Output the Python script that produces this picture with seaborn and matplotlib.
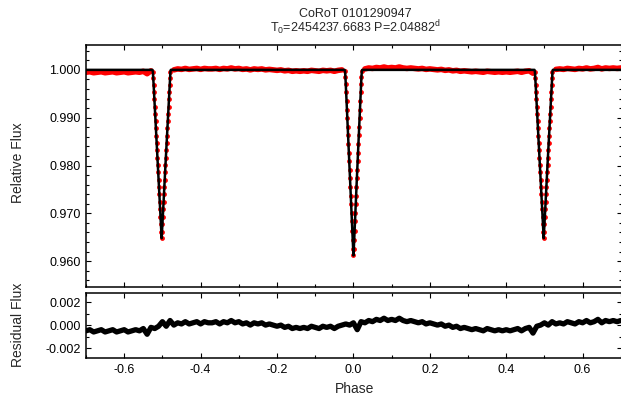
import numpy as np
import pandas as pd
import matplotlib
matplotlib.use("Agg")
import matplotlib.pyplot as plt
import seaborn as sns
from matplotlib.ticker import MultipleLocator, FormatStrFormatter

# ---------------- data ----------------
title_line1 = "CoRoT 0101290947"
title_line2 = r"T$_0$=2454237.6683 P=2.04882$^\mathrm{d}$"

# eclipse centres (phase)
secondary_centres = [-0.502, 0.498]
primary_centre = 0.0

# half eclipse profile: offset from centre (phase) and model flux
profile_offset = [0.000, 0.001, 0.002, 0.003, 0.004, 0.005, 0.006, 0.007, 0.008,
                  0.009, 0.010, 0.011, 0.012, 0.013, 0.014, 0.015, 0.016, 0.017,
                  0.018, 0.019, 0.020, 0.021, 0.022, 0.023, 0.024]
primary_flux = [0.9612, 0.9626, 0.9645, 0.9664, 0.9683, 0.9701, 0.9719, 0.9737, 0.9755,
                0.9773, 0.9791, 0.9809, 0.9827, 0.9845, 0.9863, 0.9881, 0.9899, 0.9917,
                0.9935, 0.9953, 0.9970, 0.9986, 0.9997, 1.0000, 1.0000]
secondary_flux = [0.9648, 0.9661, 0.9677, 0.9693, 0.9709, 0.9724, 0.9740, 0.9755, 0.9770,
                  0.9786, 0.9801, 0.9816, 0.9832, 0.9847, 0.9862, 0.9878, 0.9893, 0.9908,
                  0.9923, 0.9939, 0.9954, 0.9969, 0.9984, 0.9996, 1.0000]

# residuals (observed - model), phase -0.70 ... 0.70 in steps of 0.01
residual_phase = np.linspace(-0.70, 0.70, 141)
residual = [
    -0.0005, -0.0004, -0.0006, -0.0005, -0.0004, -0.0006, -0.0005, -0.0004, -0.0006, -0.0005,
    -0.0004, -0.0006, -0.0005, -0.0004, -0.0005, -0.0003, -0.0008, -0.0002, -0.0003, -0.0001,
    0.0003, -0.0001, 0.0004, 0.0000, 0.0002, 0.0001, 0.0003, 0.0001, 0.0002, 0.0003,
    0.0001, 0.0003, 0.0002, 0.0002, 0.0003, 0.0001, 0.0003, 0.0002, 0.0004, 0.0002,
    0.0003, 0.0001, 0.0002, 0.0000, 0.0002, 0.0001, 0.0002, 0.0000, 0.0001, 0.0000,
    -0.0001, 0.0000, -0.0002, -0.0001, -0.0003, -0.0002, -0.0003, -0.0002, -0.0003, -0.0001,
    -0.0002, -0.0003, -0.0001, -0.0002, -0.0001, -0.0003, -0.0001, 0.0000, 0.0001, 0.0000,
    0.0002, -0.0004, 0.0003, 0.0002, 0.0004, 0.0003, 0.0005, 0.0004, 0.0006, 0.0004,
    0.0005, 0.0004, 0.0006, 0.0004, 0.0003, 0.0004, 0.0003, 0.0002, 0.0003, 0.0001,
    0.0002, 0.0001, 0.0000, 0.0001, -0.0001, 0.0000, -0.0002, -0.0001, -0.0003, -0.0002,
    -0.0003, -0.0004, -0.0003, -0.0004, -0.0005, -0.0003, -0.0004, -0.0005, -0.0004, -0.0005,
    -0.0004, -0.0005, -0.0004, -0.0003, -0.0005, -0.0003, -0.0002, -0.0007, -0.0001, 0.0000,
    0.0002, 0.0000, 0.0003, 0.0001, 0.0002, 0.0001, 0.0003, 0.0002, 0.0001, 0.0003,
    0.0002, 0.0004, 0.0002, 0.0003, 0.0005, 0.0002, 0.0004, 0.0003, 0.0004, 0.0003, 0.0004,
]

x_ticks = [-0.6, -0.4, -0.2, 0.0, 0.2, 0.4, 0.6]
flux_ticks = [0.960, 0.970, 0.980, 0.990, 1.000]
resid_ticks = [-0.002, 0.000, 0.002]

# ---------------- build tables ----------------
off = np.array(profile_offset)
full_off = np.concatenate([-off[::-1], off[1:]])
prim_full = np.concatenate([np.array(primary_flux)[::-1], np.array(primary_flux)[1:]])
sec_full = np.concatenate([np.array(secondary_flux)[::-1], np.array(secondary_flux)[1:]])

ecl_list = [(secondary_centres[0], sec_full), (primary_centre, prim_full),
            (secondary_centres[1], sec_full)]

# model curve
mph = [-0.70]
mfl = [1.0]
for c, f in ecl_list:
    mph.extend(list(c + full_off))
    mfl.extend(list(f))
mph.append(0.70)
mfl.append(1.0)
model_df = pd.DataFrame({"phase": mph, "flux": mfl})

# in-eclipse observed points
dots_ph, dots_fl = [], []
for c, f in ecl_list:
    for o, v in zip(full_off, f):
        if v < 0.9998:
            dots_ph.append(c + o)
            dots_fl.append(v)
dots_df = pd.DataFrame({"phase": dots_ph, "flux": dots_fl})

# out-of-eclipse observed band = model (1.0) + residual
res = np.array(residual)
centres = np.array([secondary_centres[0], primary_centre, secondary_centres[1]])
half_w = off.max()
outside = np.all(np.abs(residual_phase[:, None] - centres[None, :]) > half_w, axis=1)
seg = np.sum(residual_phase[:, None] > centres[None, :], axis=1)
band_df = pd.DataFrame({"phase": residual_phase[outside],
                        "flux": 1.0 + res[outside],
                        "seg": seg[outside]})
resid_df = pd.DataFrame({"phase": residual_phase, "resid": res})

# ---------------- figure ----------------
sns.set_style("ticks")
plt.rcParams["font.family"] = ["Liberation Sans", "DejaVu Sans"]
plt.rcParams["mathtext.fontset"] = "custom"
plt.rcParams["mathtext.rm"] = "Liberation Sans"
plt.rcParams["mathtext.it"] = "Liberation Sans"
plt.rcParams["axes.unicode_minus"] = False

W, H = 621, 396
fig = plt.figure(figsize=(W / 100, H / 100), dpi=100)
L, R = 86 / W, 622 / W
ax1 = fig.add_axes([L, (H - 287) / H, R - L, (287 - 45) / H])
ax2 = fig.add_axes([L, (H - 358) / H, R - L, (358 - 293) / H])

sns.lineplot(data=band_df, x="phase", y="flux", units="seg", estimator=None,
             color="#ff0000", lw=4.0, ax=ax1, zorder=2)
sns.scatterplot(data=dots_df, x="phase", y="flux", color="#ff0000", s=12,
                linewidth=0, ax=ax1, zorder=2)
sns.lineplot(data=model_df, x="phase", y="flux", sort=False, estimator=None,
             color="black", lw=1.8, ax=ax1, zorder=3)

sns.lineplot(data=resid_df, x="phase", y="resid", sort=False, estimator=None,
             color="black", lw=3.8, ax=ax2)

ax1.set_xlim(-0.70, 0.703)
ax2.set_xlim(-0.70, 0.703)
ax1.set_ylim(0.9546, 1.0052)
ax2.set_ylim(-0.00287, 0.00280)

for ax in (ax1, ax2):
    ax.set_xlabel("")
    ax.set_ylabel("")
    ax.set_xticks(x_ticks)
    ax.xaxis.set_minor_locator(MultipleLocator(0.1))
    ax.tick_params(which="both", direction="in", top=True, right=True,
                   labelsize=9, width=0.8, colors="black", pad=4)
    ax.tick_params(which="major", length=3.5)
    ax.tick_params(which="minor", length=2)
    for s in ax.spines.values():
        s.set_linewidth(1.1)
        s.set_color("black")

ax1.set_yticks(flux_ticks)
ax1.yaxis.set_minor_locator(MultipleLocator(0.002))
ax1.yaxis.set_major_formatter(FormatStrFormatter("%.3f"))
ax1.tick_params(axis="x", labelbottom=False)

ax2.set_yticks(resid_ticks)
ax2.yaxis.set_minor_locator(MultipleLocator(0.001))
ax2.yaxis.set_major_formatter(FormatStrFormatter("%.3f"))
ax2.xaxis.set_major_formatter(FormatStrFormatter("%.1f"))

fig.text(355 / W, 1 - 14 / H, title_line1, ha="center", va="center", fontsize=9)
fig.text(355 / W, 1 - 28 / H, title_line2, ha="center", va="center", fontsize=9)
fig.text(18 / W, 1 - 163 / H, "Relative Flux", rotation=90, ha="center", va="center", fontsize=10)
fig.text(18 / W, 1 - 325 / H, "Residual Flux", rotation=90, ha="center", va="center", fontsize=10)
fig.text(355 / W, 1 - 389 / H, "Phase", ha="center", va="center", fontsize=10)

fig.savefig("out.png", dpi=100)
